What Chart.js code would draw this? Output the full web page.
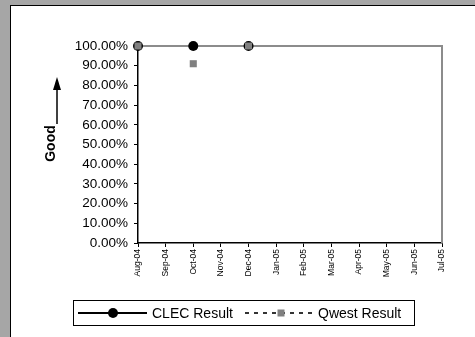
<!DOCTYPE html>
<html>
<head>
<meta charset="utf-8">
<script src="https://cdn.jsdelivr.net/npm/chart.js@4/dist/chart.umd.min.js"></script>
<style>
  body { margin: 0; background: #a6a6a6; }
  canvas { display: block; }
</style>
</head>
<body>
<canvas id="chart" width="475" height="337"></canvas>
<script>
// ---- data ----
const months = ['Aug-04','Sep-04','Oct-04','Nov-04','Dec-04','Jan-05','Feb-05','Mar-05','Apr-05','May-05','Jun-05','Jul-05'];
const clecResult = [1.0, null, 1.0, null, 1.0, null, null, null, null, null, null, null];
const qwestResult = [1.0, null, 0.91, null, 1.0, null, null, null, null, null, null, null];
const seriesNames = ['CLEC Result', 'Qwest Result'];
const axisTitle = 'Good';

const FONT = '"Liberation Sans", Arial, sans-serif';

/* ---------------- background panel, frame, arrow, legend ---------------- */
const decor = {
    id: 'decor',
    beforeDraw(chart) {
        const c = chart.ctx;
        c.save();
        c.fillStyle = '#a6a6a6';
        c.fillRect(0, 0, chart.width, chart.height);
        c.fillStyle = '#000';
        c.fillRect(10, 5, chart.width, chart.height);
        c.fillStyle = '#fff';
        c.fillRect(11, 6, chart.width, chart.height);
        c.restore();
    },
    beforeDatasetsDraw(chart) {
        // gray plot frame on top and right
        const a = chart.chartArea, c = chart.ctx;
        c.save();
        c.strokeStyle = '#8c8c8c';
        c.lineWidth = 2;
        c.beginPath();
        c.moveTo(a.left, a.top);
        c.lineTo(a.right, a.top);
        c.lineTo(a.right, a.bottom);
        c.stroke();
        c.restore();
    },
    afterDraw(chart) {
        const c = chart.ctx;
        c.save();
        // "Good" arrow
        c.strokeStyle = '#000';
        c.fillStyle = '#000';
        c.lineWidth = 1.5;
        c.beginPath();
        c.moveTo(57, 124); c.lineTo(57, 86);
        c.stroke();
        c.beginPath();
        c.moveTo(57, 77); c.lineTo(61, 90); c.lineTo(53, 90); c.closePath();
        c.fill();
        c.translate(51, 143.5);
        c.rotate(-Math.PI / 2);
        c.font = 'bold 14px ' + FONT;
        c.textAlign = 'center';
        c.textBaseline = 'middle';
        c.fillText(axisTitle, 0, 0);
        c.restore();

        // legend
        c.save();
        c.strokeStyle = '#000';
        c.fillStyle = '#000';
        c.lineWidth = 1;
        c.strokeRect(73.5, 300.5, 341, 25);
        const y = 313;
        c.lineWidth = 2;
        c.beginPath(); c.moveTo(78, y); c.lineTo(147, y); c.stroke();
        c.beginPath(); c.arc(113, y, 5, 0, Math.PI * 2); c.fill();
        c.strokeStyle = '#333';
        c.setLineDash([4, 5]);
        c.beginPath(); c.moveTo(245, y); c.lineTo(316, y); c.stroke();
        c.setLineDash([]);
        c.fillStyle = '#808080';
        c.fillRect(277.5, y - 3.5, 7, 7);
        c.fillStyle = '#000';
        c.font = '14px ' + FONT;
        c.textBaseline = 'middle';
        c.fillText(seriesNames[0], 152, y + 1);
        c.fillText(seriesNames[1], 318, y + 1);
        c.restore();
    }
};

new Chart(document.getElementById('chart'), {
    type: 'line',
    data: {
        labels: months,
        datasets: [
            {
                label: seriesNames[0],
                data: clecResult,
                borderColor: '#000',
                backgroundColor: '#000',
                borderWidth: 1.5,
                pointStyle: 'circle',
                pointRadius: 5,
                pointBorderWidth: 0,
                spanGaps: false,
                clip: false,
                order: 2
            },
            {
                label: seriesNames[1],
                data: qwestResult,
                borderColor: '#808080',
                backgroundColor: '#808080',
                borderWidth: 1.5,
                borderDash: [4, 5],
                pointStyle: 'rect',
                pointRadius: 5,
                pointBorderWidth: 0,
                spanGaps: false,
                clip: false,
                order: 1
            }
        ]
    },
    options: {
        responsive: false,
        animation: false,
        layout: { padding: { left: 0, top: 46, right: 33, bottom: 0 } },
        plugins: { legend: { display: false }, tooltip: { enabled: false } },
        scales: {
            x: {
                offset: false,
                grid: { display: true, drawOnChartArea: false, tickLength: 4, color: '#000', tickWidth: 1 },
                border: { display: true, color: '#000', width: 1.5 },
                ticks: {
                    autoSkip: false, minRotation: 90, maxRotation: 90, padding: 2,
                    color: '#000', font: { family: FONT, size: 8.5 }
                },
                afterFit(scale) { scale.height = 94; }
            },
            y: {
                min: 0, max: 1,
                grid: { display: true, drawOnChartArea: false, tickLength: 4, color: '#000', tickWidth: 1 },
                border: { display: true, color: '#000', width: 1.5 },
                ticks: {
                    autoSkip: false,
                    stepSize: 0.1, padding: 6, color: '#000',
                    font: { family: FONT, size: 13.5, lineHeight: 1 },
                    callback: (v) => (v * 100).toFixed(2) + '%'
                },
                afterFit(scale) { scale.width = 138; }
            }
        }
    },
    plugins: [decor]
});
</script>
</body>
</html>
